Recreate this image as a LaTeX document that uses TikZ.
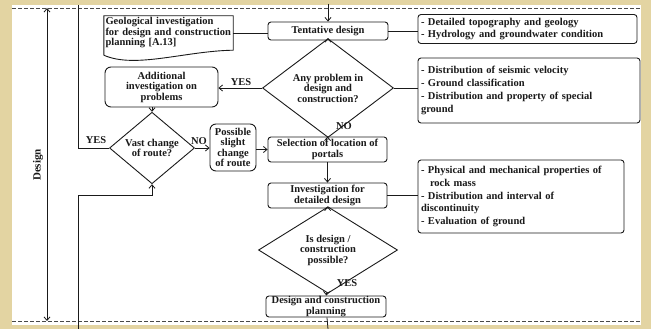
\documentclass[tikz,border=0pt]{standalone}
\usepackage{fontspec}
\setmainfont{Liberation Serif}
\usetikzlibrary{shapes.geometric,arrows.meta}

\definecolor{slidebg}{HTML}{E3D4A2}
\definecolor{ink}{HTML}{1A1A1A}

\begin{document}
\begin{tikzpicture}[x=1pt,y=-1pt,
  every node/.style={font=\bfseries\fontsize{10.5}{10.5}\selectfont, inner sep=0pt, text=ink},
  line/.style={draw=ink, line width=0.8pt},
  arr/.style={line, -{Straight Barb[length=3.5pt,width=6pt]}},
  box/.style={draw=ink, line width=0.9pt, rounded corners=3pt, align=center},
  rbox/.style={draw=ink, line width=0.9pt, rounded corners=6pt, align=center},
  note/.style={draw=ink, line width=0.9pt, rounded corners=3pt, align=left,
    inner xsep=3pt, font=\bfseries\fontsize{10.5}{12.7}\selectfont},
  decision/.style={draw=ink, line width=0.9pt, diamond, align=center},
  lbl/.style={font=\bfseries\fontsize{10.5}{10.5}\selectfont},
  sep/.style={draw=ink!80, line width=0.8pt, dash pattern=on 4pt off 2pt}
]
% slide background and white panel
\fill[slidebg] (0,0) rectangle (651,329);
\fill[white] (12,5) rectangle (641,325);
\useasboundingbox (0,0) rectangle (651,329);

% stage boundaries
\draw[sep] (12,8) -- (641,8);
\draw[sep] (12,321) -- (641,321);

% main column
\node[box, minimum width=120pt, minimum height=18pt] (tent) at (328,31) {Tentative design};
\node[decision, minimum width=131pt, minimum height=69pt] (any) at (328,88)
  {Any problem in\\design and\\construction?};
\node[box, minimum width=119pt, minimum height=25pt] (sel) at (327.5,149.5)
  {Selection of location of\\portals};
\node[box, minimum width=119pt, minimum height=25pt] (inv) at (327.5,195.5)
  {Investigation for\\detailed design};
\node[decision, minimum width=139pt, minimum height=54pt] (isdes) at (328,250)
  {Is design /\\construction\\possible?};
\node[box, minimum width=120pt, minimum height=21pt] (plan) at (326,306.5)
  {Design and construction\\planning};

% left column
\node[rbox, minimum width=113pt, minimum height=40pt] (add) at (161.5,87)
  {Additional\\investigation on\\problems};
\node[decision, minimum width=85pt, minimum height=46pt] (vast) at (152,148)
  {Vast change\\of route?};
\node[rbox, minimum width=46pt, minimum height=47pt] (poss) at (233,147.5)
  {Possible\\slight\\change\\of route};

% document: geological investigation
\node[align=left, text width=126pt, minimum height=34pt, inner xsep=1.5pt] (geo) at (168.5,33)
  {Geological investigation\\for design and construction\\planning [A.13]};
\draw[line, line width=0.9pt] ([yshift=-5pt]geo.south west) -- (geo.north west) -- (geo.north east)
  -- (geo.south east) .. controls (185,51) and (135,69) .. ([yshift=-5pt]geo.south west);

% right-hand notes
\node[note, text width=213pt, minimum height=29pt] (n1) at (527.5,29)
  {- Detailed topography and geology\\- Hydrology and groundwater condition};
\node[note, text width=216pt, minimum height=65pt] (n2) at (529,90.5)
  {- Distribution of seismic velocity\\- Ground classification\\- Distribution and property of special\\ground};
\node[note, text width=200pt, minimum height=73pt] (n3) at (521,196.5)
  {- Physical and mechanical properties of\\\hspace*{9pt}rock mass\\- Distribution and interval of\\discontinuity\\- Evaluation of ground};

% "Design" stage span
\coordinate (dtop) at (47,8);
\coordinate (dbot) at (47,321);
\draw[line, {Straight Barb[length=3.5pt,width=6pt]}-{Straight Barb[length=3.5pt,width=6pt]}] (dtop) -- (dbot);
\node[rotate=90, font=\bfseries\fontsize{11}{11}\selectfont] (dlabel) at (38,165) {Design};

% flow in and out of the stage
\coordinate (inflow) at (328,4);
\coordinate (outflow) at (328,329);
\draw[arr] (inflow) -- (tent);
\draw[line] (plan) -- (outflow);

% main flow
\draw[arr] (tent) -- (any);
\draw[arr] (any) -- (sel);
\draw[arr] (sel) -- (inv);
\draw[arr] (inv) -- (isdes);
\draw[arr] (isdes) -- (plan);
\node[lbl] (noA) at (344,126) {NO};
\node[lbl] (yesD) at (347,283) {YES};

% problems loop
\draw[arr] (any.west) -- (add.east |- any.west);
\draw[arr] (add.south -| vast.north) -- (vast.north);
\draw[arr] (vast.east) -- (poss.west |- vast.east);
\draw[arr] (poss.east |- sel.west) -- (sel.west);
\node[lbl] (yesA) at (241,82) {YES};
\node[lbl] (noV) at (199,141) {NO};

% return to the previous stage / feedback from the next stage
\coordinate (upexit) at (78,5);
\coordinate (lowentry) at (78,329);
\draw[line] (vast.west) -- (vast.west -| upexit) -- (upexit);
\draw[arr] (lowentry) -- (78,195) -| (vast.south);
\node[lbl] (yesV) at (96,140) {YES};

% side links to the notes
\draw[line] (geo.east) -- (geo.east -| tent.west);
\draw[line] (tent.east) -- (tent.east -| n1.west);
\draw[line] (any.east) -- (any.east -| n2.west);
\draw[line] (inv.east) -- (inv.east -| n3.west);
\end{tikzpicture}
\end{document}
